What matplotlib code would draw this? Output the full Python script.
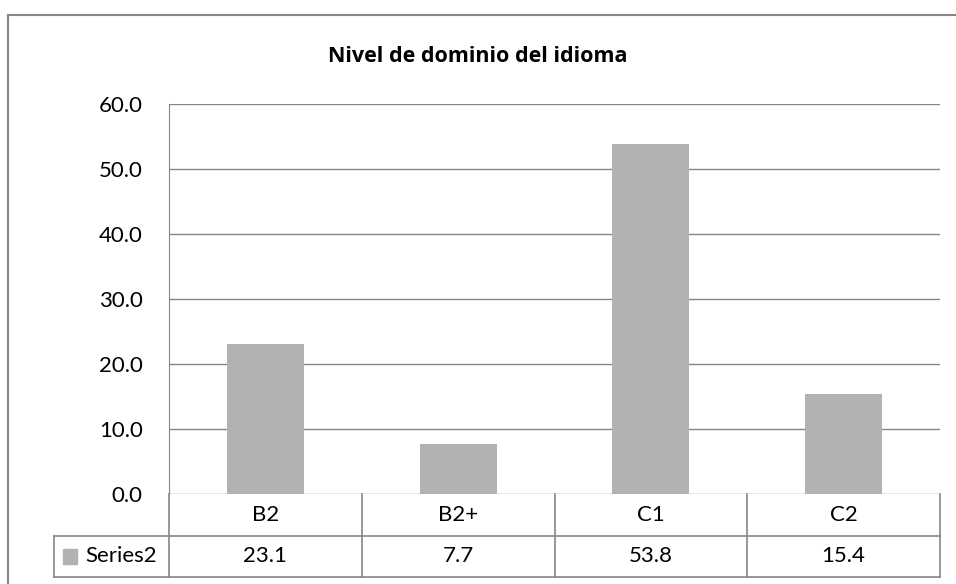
import matplotlib.pyplot as plt
from matplotlib.patches import Rectangle

categories = ['B2', 'B2+', 'C1', 'C2']
values = [23.1, 7.7, 53.8, 15.4]
series_name = 'Series2'
title = 'Nivel de dominio del idioma'

W, H = 956, 584
plt.rcParams['font.family'] = ['Lato', 'DejaVu Sans']

fig = plt.figure(figsize=(W / 100, H / 100), dpi=100)

# outer chart border (only top/left visible in the crop)
fig.add_artist(plt.Line2D([8 / W, 1], [1 - 15 / H, 1 - 15 / H], color='#888888', lw=1.5))
fig.add_artist(plt.Line2D([8 / W, 8 / W], [0, 1 - 15 / H], color='#888888', lw=1.5))

left, right, top, bottom = 169, 940, 104, 494
ax = fig.add_axes([left / W, 1 - bottom / H, (right - left) / W, (bottom - top) / H])

grid_c = '#868686'
fs = 16
x = range(len(categories))
ax.bar(x, values, width=0.4, color='#b2b2b2', zorder=2)
ax.set_xlim(-0.5, len(categories) - 0.5)
ax.set_ylim(0, 60)
ax.set_yticks(range(0, 61, 10))
ax.set_yticklabels([f'{v:.1f}' for v in range(0, 61, 10)], fontsize=fs)
ax.yaxis.grid(True, color=grid_c, lw=1, zorder=0)
ax.set_xticks([])
for s in ['top', 'right', 'bottom']:
    ax.spines[s].set_visible(False)
ax.spines['left'].set_color(grid_c)
ax.tick_params(axis='y', length=0, pad=19)

fig.text(478 / W, 1 - 56 / H, title, ha='center', va='center', fontsize=15.5,
         fontweight='bold', family=['Open Sans', 'DejaVu Sans'])

# data table under the plot
ph = bottom - top
r1 = 42 / ph
r2 = 83 / ph
trans = ax.get_xaxis_transform()
n = len(categories)
colw = (right - left) / n
xl = -0.5 - (left - 54) / colw
lk = dict(color=grid_c, lw=1.2, clip_on=False, transform=trans)
ax.plot([-0.5, n - 0.5], [-r1, -r1], **lk)
ax.plot([xl, -0.5], [-r1, -r1], **lk)
ax.plot([xl, n - 0.5], [-r2, -r2], **lk)
ax.plot([xl, xl], [-r1, -r2], **lk)
for i in range(n + 1):
    ax.plot([i - 0.5, i - 0.5], [0, -r2], **lk)
ym = -(r1 + r2) / 2
for i, (c, v) in enumerate(zip(categories, values)):
    ax.text(i, -r1 / 2, c, ha='center', va='center', fontsize=fs, transform=trans)
    ax.text(i, ym, f'{v:.1f}', ha='center', va='center', fontsize=fs, transform=trans)
ax.add_patch(Rectangle((xl + 9 / colw, ym - 7.5 / ph), 14 / colw, 15 / ph, color='#b2b2b2',
                       transform=trans, clip_on=False))
ax.text(xl + 31 / colw, ym, series_name, ha='left', va='center', fontsize=fs, transform=trans)

fig.savefig('out.png', dpi=100)
